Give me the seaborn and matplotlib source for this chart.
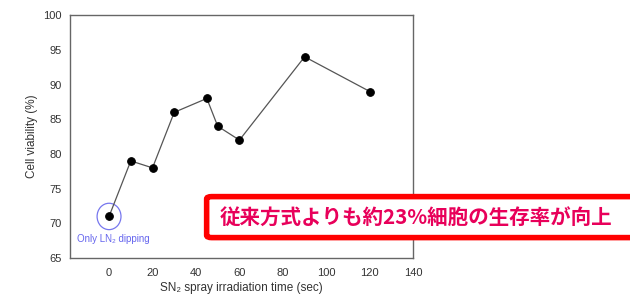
import matplotlib
matplotlib.use("Agg")
import matplotlib.pyplot as plt
import seaborn as sns
import pandas as pd
from matplotlib.patches import Ellipse, FancyBboxPatch

# data
times = [0, 10, 20, 30, 45, 50, 60, 90, 120]
viability = [71, 79, 78, 86, 88, 84, 82, 94, 89]
x_ticks = [0, 20, 40, 60, 80, 100, 120, 140]
y_ticks = [65, 70, 75, 80, 85, 90, 95, 100]

df = pd.DataFrame({"time": times, "viability": viability})

sns.set_style("white")
plt.rcParams['font.family'] = ['Liberation Sans', 'DejaVu Sans']

fig = plt.figure(figsize=(6.3, 2.97), dpi=100)
ax = fig.add_axes([0.111, 0.131, 0.545, 0.818])

sns.lineplot(data=df, x="time", y="viability", ax=ax, color="#555555", linewidth=0.9,
             marker="o", markersize=5.5, markerfacecolor="black", markeredgecolor="black")

ax.set_xlim(-18, 140)
ax.set_ylim(65, 100)
ax.set_xticks(x_ticks)
ax.set_yticks(y_ticks)
ax.tick_params(axis="both", direction="out", length=3, width=0.8, colors="#555555",
               labelcolor="#333333", labelsize=8, pad=3)
ax.tick_params(axis="x", pad=4)
for s in ax.spines.values():
    s.set_color("#666666")
    s.set_linewidth(1.0)

ax.set_xlabel("SN₂ spray irradiation time (sec)", fontsize=8.5, color="#333333", labelpad=3)
ax.set_ylabel("Cell viability (%)", fontsize=8.5, color="#333333", labelpad=4)

# blue circle around the LN2 only point
ax.add_patch(Ellipse((0, 71), width=11, height=3.8, fill=False, edgecolor="#7777ee", linewidth=0.9))
ax.text(2, 67.8, "Only LN₂ dipping", color="#6666ee", fontsize=7, ha="center", va="center")

# red callout box
box = FancyBboxPatch((0.333, 0.205), 0.7, 0.128, boxstyle="round,pad=0.005,rounding_size=0.008",
                     transform=fig.transFigure, facecolor="white", edgecolor="#ff0000",
                     linewidth=4, clip_on=False)
fig.patches.append(box)
fig.text(0.66, 0.265, "従来方式よりも約23%細胞の生存率が向上", color="#e8005a", fontsize=14.8,
         fontweight="bold", ha="center", va="center",
         family=['Noto Sans CJK JP', 'DejaVu Sans'])

fig.savefig("out.png", dpi=100)
